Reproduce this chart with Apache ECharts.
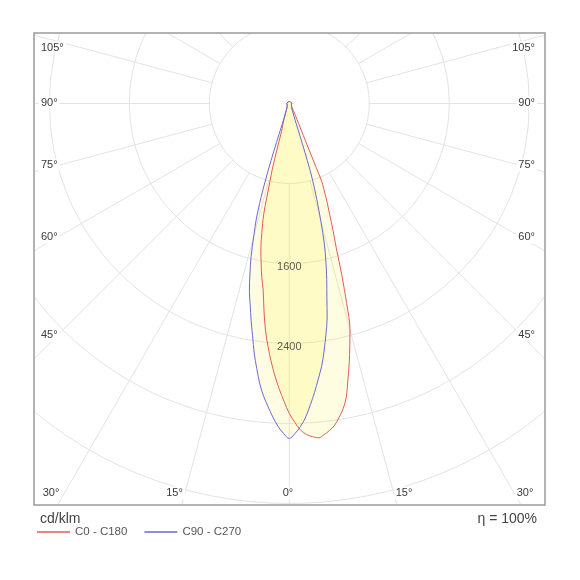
<!DOCTYPE html>
<html><head><meta charset="utf-8">
<script src="https://cdn.jsdelivr.net/npm/echarts@6/dist/echarts.min.js"></script>
<style>html,body{margin:0;padding:0;background:#fff}#c{width:580px;height:580px}</style>
</head><body><div id="c"></div>
<script>
// ---- data (gamma angle in degrees, luminous intensity in cd/klm) ----
const gammaC0 = [-180,-150,-120,-90,-60,-45,-35,-30,-25,-20,-17.5,-16,-15.5,-15,-14.5,-14,-13,-12,-11,-10,-9,-8,-7,-6,-5,-4,-3,-2,-1,0,1,2,3,4,5,6,7,8,9,10,11,12,13,14,15,16,17,18,19,20,21,22,22.6,23,23.5,24,25,27,30,35,45,60,90,120,150,180];
const valueC0 = [20,20,20,25,25,30,40,50,70,120,200,260,290,470,680,790,1140,1320,1490,1620,1760,1880,2080,2280,2440,2590,2730,2860,2980,3100,3190,3270,3315,3340,3356,3330,3295,3250,3180,3100,2990,2820,2665,2500,2345,2080,1800,1520,1345,1180,1050,920,840,550,400,300,220,130,80,50,30,25,25,20,20,20];
const gammaC90 = [-180,-150,-120,-90,-60,-45,-30,-25,-21,-19,-18.5,-18,-17.5,-17,-16,-15,-14,-13,-12,-11,-10,-9,-8,-7,-6,-5,-4,-3,-2,-1,0,1,2,3,4,5,6,7,8,9,10,11,12,13,14,15,16,17,17.5,18,18.5,20,22,25,30,45,60,90,120,150,180];
const valueC90 = [20,20,20,25,25,30,45,60,120,220,320,500,700,900,1190,1370,1580,1750,1920,2050,2200,2350,2520,2670,2820,2940,3040,3140,3230,3300,3350,3300,3230,3140,3020,2900,2770,2650,2500,2340,2180,1970,1800,1630,1450,1220,1000,780,600,420,280,140,90,60,45,30,25,25,20,20,20];
const seriesNames = ['C0 - C180', 'C90 - C270'];
const intensityTicks = [1600, 2400];
const sideAngleLabels = ['105°', '90°', '75°', '60°', '45°'];
const bottomAngleLabels = ['30°', '15°', '0°', '15°', '30°'];
const unitText = 'cd/klm';
const effText = 'η = 100%';

// ---- layout ----
const FONT = '"Liberation Sans", Arial, sans-serif';
const CX = 289.3, CY = 103.5;
const FRAME = {x: 34, y: 33, w: 511, h: 472};
const sideLabelY = [48, 103, 165, 237, 335];
const bottomLabelX = [51, 174.5, 288, 404, 525];
const RED = '#e65a5a', BLUE = '#6a6ad6';
const FILL = 'rgba(255,240,40,0.2)';

const chart = echarts.init(document.getElementById('c'), null, {renderer: 'canvas'});

const graphics = [];
// white masks outside the frame
[[0, 0, 580, FRAME.y], [0, FRAME.y + FRAME.h, 580, 580 - FRAME.y - FRAME.h],
 [0, 0, FRAME.x, 580], [FRAME.x + FRAME.w, 0, 580 - FRAME.x - FRAME.w, 580]].forEach(r => {
  graphics.push({type: 'rect', z: 50, silent: true, shape: {x: r[0], y: r[1], width: r[2], height: r[3]}, style: {fill: '#fff'}});
});
graphics.push({type: 'rect', z: 60, silent: true, shape: {x: FRAME.x, y: FRAME.y, width: FRAME.w, height: FRAME.h},
  style: {fill: 'none', stroke: '#9a9a9a', lineWidth: 1.5}});
function txt(t, x, y, align, size, color, bg) {
  const s = {text: t, x: x, y: y, textAlign: align, textVerticalAlign: 'middle', fill: color, font: size + 'px ' + FONT};
  if (bg) { s.backgroundColor = '#fff'; s.padding = [1, 2]; }
  return {type: 'text', z: 70, silent: true, style: s};
}
sideAngleLabels.forEach((t, i) => {
  graphics.push(txt(t, 39, sideLabelY[i], 'left', 11, '#3a3a3a', true));
  graphics.push(txt(t, 537, sideLabelY[i], 'right', 11, '#3a3a3a', true));
});
bottomAngleLabels.forEach((t, i) => {
  graphics.push(txt(t, bottomLabelX[i], 493, 'center', 11, '#3a3a3a', true));
});
graphics.push(txt(unitText, 40, 519, 'left', 14, '#444', false));
graphics.push(txt(effText, 537, 519, 'right', 14, '#444', false));

const option = {
  animation: false,
  backgroundColor: '#fff',
  polar: [
    {center: [CX, CY], radius: [80, 480]},
    {center: [CX, CY], radius: 480}
  ],
  angleAxis: [
    {polarIndex: 0, type: 'value', min: -180, max: 180, interval: 15, startAngle: 90, clockwise: false,
     axisLine: {show: false}, axisTick: {show: false}, axisLabel: {show: false},
     splitLine: {show: true, lineStyle: {color: '#e3e3e3', width: 1}}},
    {polarIndex: 1, type: 'value', min: -180, max: 180, interval: 15, startAngle: 90, clockwise: false, show: false}
  ],
  radiusAxis: [
    {polarIndex: 0, type: 'value', min: 800, max: 4800, interval: 800,
     axisLine: {show: false}, axisTick: {show: false}, axisLabel: {show: false},
     splitLine: {show: true, lineStyle: {color: '#e3e3e3', width: 1}}},
    {polarIndex: 1, type: 'value', min: 0, max: 4800, interval: 800, show: false}
  ],
  legend: {
    data: seriesNames, left: 37, top: 526, icon: 'rect', itemWidth: 33, itemHeight: 1.5, itemGap: 17, padding: 0, z: 100,
    textStyle: {fontSize: 11.5, color: '#555', fontFamily: FONT}
  },
  series: [
    {name: seriesNames[0], type: 'line', coordinateSystem: 'polar', polarIndex: 1, symbol: 'none', showSymbol: false,
     smooth: 0.35, data: gammaC0.map((g, i) => [valueC0[i], g]),
     lineStyle: {color: RED, width: 1}, itemStyle: {color: RED}, areaStyle: {color: FILL}, z: 3},
    {name: seriesNames[1], type: 'line', coordinateSystem: 'polar', polarIndex: 1, symbol: 'none', showSymbol: false,
     smooth: 0.35, data: gammaC90.map((g, i) => [valueC90[i], g]),
     lineStyle: {color: BLUE, width: 1}, itemStyle: {color: BLUE}, areaStyle: {color: FILL}, z: 3},
    {name: 'ticks', type: 'scatter', coordinateSystem: 'polar', polarIndex: 1, silent: true, symbolSize: 1,
     itemStyle: {color: 'rgba(0,0,0,0)'}, z: 5,
     data: intensityTicks.map(v => [v, 0]),
     label: {show: true, position: 'inside', offset: [0, 3], formatter: p => String(p.value[0]), color: '#333', fontSize: 11, fontFamily: FONT}}
  ],
  graphic: graphics
};
chart.setOption(option);
</script></body></html>
